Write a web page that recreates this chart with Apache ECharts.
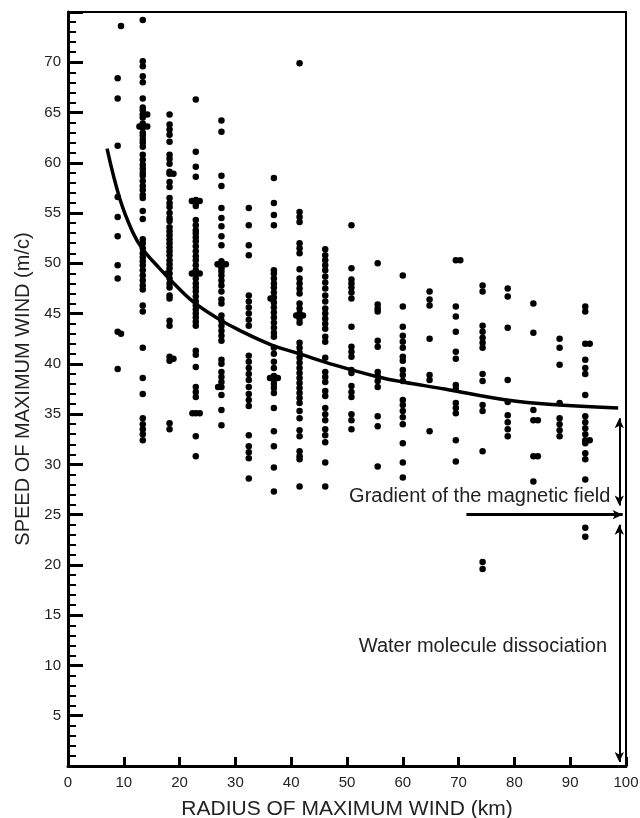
<!DOCTYPE html>
<html>
<head>
<meta charset="utf-8">
<title>wind</title>
<script src="https://cdn.jsdelivr.net/npm/echarts@6/dist/echarts.min.js"></script>
<style>
    html, body { margin: 0; padding: 0; background: #fff; }
    #main { width: 640px; height: 818px; }
</style>
</head>
<body>
<div id="main"></div>
<script>
    // radius columns (km)
    var radius = [8.9, 13.4, 18.2, 22.9, 27.5, 32.4, 36.9, 41.5, 46.1, 50.8,
                  55.5, 60.0, 64.8, 69.5, 74.3, 78.8, 83.4, 88.1, 92.7];
    // speeds of maximum wind for every column (m/c)
    var speeds = [
        [68.4, 66.4, 61.7, 56.6, 54.6, 52.7, 49.8, 48.5, 43.2, 39.5],
        [74.2, 70.1, 69.6, 68.6, 68.0, 66.4, 65.5, 65.2, 64.8, 64.5, 63.9, 63.6, 63.5, 63.0, 62.7, 62.3, 62.0, 61.6,
         60.8, 60.3, 59.8, 59.4, 59.0, 58.7, 58.2, 57.7, 57.3, 56.8, 56.5, 55.2, 54.4, 52.4, 52.0, 51.5, 51.0, 50.6,
         50.2, 49.8, 49.3, 48.8, 48.3, 47.8, 47.4, 45.8, 45.2, 41.6, 38.6, 37.0, 34.6, 34.0, 33.5, 33.0, 32.4],
        [64.8, 63.8, 63.3, 62.8, 62.1, 60.8, 60.4, 59.9, 59.1, 58.9, 58.1, 57.6, 56.5, 56.0, 55.6, 55.0, 54.5, 54.2,
         53.6, 53.2, 52.8, 52.4, 52.0, 51.6, 51.2, 50.8, 50.3, 49.9, 49.5, 49.0, 48.5, 48.0, 47.6, 46.8, 46.5, 44.3,
         43.8, 40.7, 40.3, 34.1, 33.5],
        [66.3, 61.1, 59.6, 58.6, 56.3, 56.0, 55.7, 54.3, 53.8, 53.3, 53.0, 52.6, 52.2, 51.7, 51.2, 50.7, 50.3, 49.8,
         49.3, 49.0, 48.5, 48.0, 47.6, 47.2, 46.7, 46.2, 45.8, 45.4, 45.0, 44.6, 44.2, 43.8, 41.3, 40.9, 39.7, 37.7,
         37.2, 36.7, 35.1, 32.8, 30.8],
        [64.2, 63.1, 58.7, 57.7, 55.5, 54.5, 53.7, 52.7, 51.8, 50.2, 49.9, 49.7, 49.5, 49.2, 48.8, 48.3, 47.8, 47.2,
         46.4, 46.0, 44.8, 44.3, 43.8, 43.3, 42.8, 42.3, 40.4, 40.0, 39.2, 38.7, 38.2, 37.7, 36.9, 35.4, 33.9],
        [55.5, 53.8, 51.8, 50.8, 46.8, 46.2, 45.6, 45.0, 44.4, 43.8, 40.8, 40.2, 39.6, 39.0, 38.4, 37.7, 37.0, 36.4,
         35.8, 32.9, 31.8, 31.2, 30.6, 28.6],
        [58.5, 56.0, 54.8, 53.8, 49.3, 49.0, 48.5, 48.0, 47.6, 47.1, 46.6, 46.1, 45.6, 45.1, 44.6, 44.1, 43.6, 43.1,
         42.7, 41.6, 41.0, 40.2, 39.6, 38.8, 38.4, 38.0, 37.6, 37.1, 35.6, 33.3, 31.8, 29.7, 27.3],
        [69.9, 55.1, 54.6, 54.1, 52.0, 51.5, 51.0, 49.4, 48.5, 48.0, 47.5, 47.0, 46.0, 45.5, 45.0, 44.5, 44.1, 42.1,
         41.6, 41.1, 40.6, 40.1, 39.6, 39.1, 38.6, 38.1, 37.6, 37.1, 36.6, 36.1, 35.3, 34.6, 33.4, 32.8, 31.3, 30.8,
         30.5, 27.8],
        [51.4, 50.8, 50.3, 49.8, 49.3, 48.7, 48.1, 47.5, 46.8, 46.2, 45.5, 45.0, 44.5, 44.0, 43.5, 42.7, 42.2, 40.6,
         39.2, 38.7, 38.2, 37.3, 36.8, 35.6, 35.0, 34.4, 33.5, 32.9, 32.2, 30.2, 27.8],
        [53.8, 49.5, 48.4, 48.0, 47.6, 47.1, 46.5, 43.7, 41.7, 41.2, 40.7, 39.4, 39.1, 37.8, 37.2, 36.7, 35.0, 34.4, 33.5],
        [50.0, 45.9, 45.5, 45.2, 42.3, 41.7, 39.2, 38.8, 38.3, 37.7, 34.8, 33.8, 29.8],
        [48.8, 45.7, 43.7, 42.8, 42.2, 41.6, 40.7, 40.3, 39.4, 38.9, 38.3, 36.4, 35.9, 35.3, 34.7, 34.0, 32.1, 30.2, 28.7],
        [47.2, 46.4, 45.8, 42.5, 38.9, 38.4, 33.3],
        [50.3, 45.7, 44.7, 43.2, 41.2, 40.5, 37.9, 37.5, 36.1, 35.6, 35.1, 32.4, 30.3],
        [47.8, 47.2, 43.8, 43.2, 42.6, 42.1, 41.6, 39.0, 38.3, 35.9, 35.3, 31.3, 20.3, 19.6],
        [47.5, 46.7, 43.6, 38.4, 36.2, 34.9, 34.2, 33.5, 32.8],
        [46.0, 43.1, 35.4, 34.4, 30.8, 28.3],
        [42.5, 41.6, 39.9, 36.1, 34.6, 34.0, 33.4, 32.8],
        [45.7, 45.2, 42.0, 40.4, 39.6, 39.0, 36.9, 34.8, 34.2, 33.6, 33.0, 32.4, 32.1, 31.1, 30.5, 28.5, 23.7, 22.8]
    ];
    // dots that sit a little beside their column
    var sideX = [9.5, 9.5, 14.2, 14.2, 12.8, 18.9, 17.7, 18.9, 22.2, 23.6, 22.2, 23.6, 23.6, 22.3,
                 26.8, 28.3, 26.9, 36.2, 37.6, 36.3, 40.9, 42.1, 70.3, 84.2, 84.2, 93.5, 93.5];
    var sideY = [73.6, 43.0, 63.6, 64.8, 63.6, 58.9, 49.0, 40.5, 56.2, 56.2, 49.0, 49.0, 35.1, 35.1,
                 49.9, 49.9, 37.7, 38.6, 38.6, 46.5, 44.8, 44.8, 50.3, 34.4, 30.8, 42.0, 32.4];

    // fitted curve
    var curveX = [7.0, 9.3, 11.6, 13.4, 16.4, 18.8, 22.4, 27.2, 30.5, 36.4, 41.5, 47.7, 55.6, 60.0, 67.5, 78.6, 88.1, 98.6];
    var curveY = [61.4, 56.4, 53.1, 51.4, 49.5, 48.1, 46.2, 44.4, 43.4, 41.9, 41.0, 39.9, 38.7, 38.2, 37.5, 36.4, 35.9, 35.6];

    // arrows and the 25 m/c level
    var arrowX = 98.8;
    var upperArrow = [34.6, 25.9];
    var lowerArrow = [24.0, 0.4];
    var levelY = 25;
    var levelX = [71.4, 99.4];

    var notes = ['Gradient of the magnetic field', 'Water molecule dissociation'];
    var noteX = [97.2, 96.6];
    var noteY = [26.8, 11.9];

    var points = [];
    for (var i = 0; i < radius.length; i++) {
        for (var j = 0; j < speeds[i].length; j++) {
            points.push([radius[i], speeds[i][j]]);
        }
    }
    for (var k = 0; k < sideX.length; k++) {
        points.push([sideX[k], sideY[k]]);
    }
    var curve = curveX.map(function (x, n) { return [x, curveY[n]]; });

    var font = '"Liberation Sans", Arial, sans-serif';
    var chart = echarts.init(document.getElementById('main'));
    chart.setOption({
        animation: false,
        backgroundColor: '#fff',
        grid: {
            left: 68, right: 14, top: 12, bottom: 52,
            outerBoundsMode: 'none',
            show: true, borderColor: '#000', borderWidth: 2
        },
        xAxis: {
            type: 'value', min: 0, max: 100, interval: 10,
            name: 'RADIUS OF MAXIMUM WIND (km)',
            nameLocation: 'middle', nameGap: 33,
            nameTextStyle: { fontFamily: font, fontSize: 21, color: '#222' },
            axisLine: { lineStyle: { color: '#000', width: 3 } },
            axisTick: { inside: true, length: 9, lineStyle: { color: '#000', width: 3 } },
            axisLabel: { margin: 9, fontFamily: font, fontSize: 15, color: '#222' },
            splitLine: { show: false }
        },
        yAxis: {
            type: 'value', min: 0, max: 75, interval: 5,
            name: 'SPEED OF MAXIMUM WIND (m/c)',
            nameLocation: 'middle', nameGap: 34,
            nameTextStyle: { fontFamily: font, fontSize: 20, color: '#222' },
            axisLine: { lineStyle: { color: '#000', width: 3 } },
            axisTick: { inside: true, length: 15, lineStyle: { color: '#000', width: 3 } },
            minorTick: { show: true, splitNumber: 5, length: 8, lineStyle: { color: '#000', width: 2 } },
            axisLabel: {
                margin: 7, fontFamily: font, fontSize: 15, color: '#222',
                formatter: function (v) { return (v === 0 || v === 75) ? '' : v; }
            },
            splitLine: { show: false }
        },
        series: [
            {
                type: 'scatter',
                data: points,
                symbolSize: 6.5,
                itemStyle: { color: '#000', opacity: 1 },
                silent: true
            },
            {
                type: 'line',
                data: curve,
                smooth: 0.4,
                symbol: 'none',
                lineStyle: { color: '#000', width: 3.5 },
                silent: true,
                markLine: {
                    silent: true,
                    symbol: ['arrow', 'arrow'],
                    symbolSize: [7, 10],
                    label: { show: false },
                    lineStyle: { color: '#000', width: 2, type: 'solid' },
                    data: [
                        [{ coord: [arrowX, upperArrow[0]] }, { coord: [arrowX, upperArrow[1]] }],
                        [{ coord: [arrowX, lowerArrow[0]] }, { coord: [arrowX, lowerArrow[1]] }],
                        [{ coord: [levelX[0], levelY], symbol: 'none' },
                         { coord: [levelX[1], levelY], symbol: 'arrow', lineStyle: { width: 3 } }]
                    ]
                },
                markPoint: {
                    silent: true,
                    symbol: 'circle',
                    symbolSize: 0,
                    data: notes.map(function (t, n) {
                        return {
                            coord: [noteX[n], noteY[n]],
                            label: {
                                show: true, position: 'left', distance: 0,
                                formatter: t, fontFamily: font, fontSize: 20, color: '#222'
                            }
                        };
                    })
                }
            }
        ]
    });
</script>
</body>
</html>
